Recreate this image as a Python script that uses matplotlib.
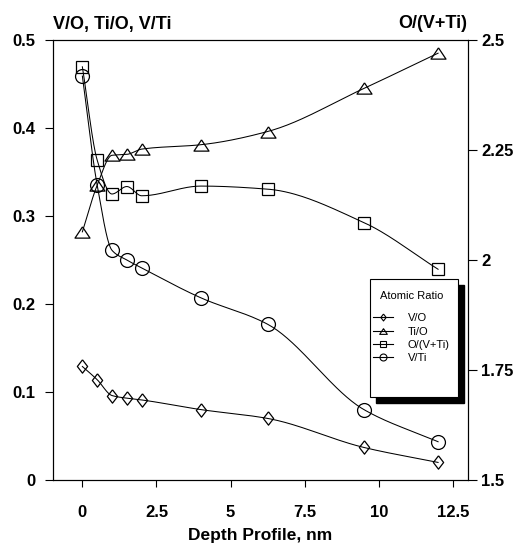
import numpy as np
import matplotlib
matplotlib.use("Agg")
import matplotlib.pyplot as plt
from matplotlib.lines import Line2D
from matplotlib.patches import Rectangle

plt.rcParams['font.family'] = ['Liberation Sans', 'DejaVu Sans']

# depth profile data
depth = [0, 0.5, 1, 1.5, 2, 4, 6.25, 9.5, 12]
v_o = [0.129, 0.114, 0.096, 0.093, 0.091, 0.080, 0.070, 0.037, 0.020]
ti_o = [0.282, 0.335, 0.369, 0.370, 0.376, 0.381, 0.396, 0.445, 0.485]
v_ti = [0.459, 0.335, 0.261, 0.250, 0.241, 0.207, 0.177, 0.080, 0.0435]
o_vti = [2.439, 2.227, 2.150, 2.167, 2.146, 2.168, 2.161, 2.085, 1.979]

xticks = [0, 2.5, 5, 7.5, 10, 12.5]
xtick_labels = ['0', '2.5', '5', '7.5', '10', '12.5']
lticks = [0, 0.1, 0.2, 0.3, 0.4, 0.5]
ltick_labels = ['0', '0.1', '0.2', '0.3', '0.4', '0.5']
rticks = [1.5, 1.75, 2, 2.25, 2.5]
rtick_labels = ['1.5', '1.75', '2', '2.25', '2.5']


def smooth(x, y, n=40):
    # monotone cubic hermite through the points, just for drawing the curve
    x = np.asarray(x, float)
    y = np.asarray(y, float)
    h = np.diff(x)
    d = np.diff(y) / h
    m = np.zeros_like(y)
    m[0], m[-1] = d[0], d[-1]
    for k in range(1, len(x) - 1):
        if d[k - 1] * d[k] > 0:
            w1 = 2 * h[k] + h[k - 1]
            w2 = h[k] + 2 * h[k - 1]
            m[k] = (w1 + w2) / (w1 / d[k - 1] + w2 / d[k])
    xs, ys = [], []
    t = np.linspace(0, 1, n)
    for k in range(len(h)):
        h00 = 2 * t**3 - 3 * t**2 + 1
        h10 = t**3 - 2 * t**2 + t
        h01 = -2 * t**3 + 3 * t**2
        h11 = t**3 - t**2
        xs.append(x[k] + t * h[k])
        ys.append(h00 * y[k] + h10 * h[k] * m[k] + h01 * y[k + 1] + h11 * h[k] * m[k + 1])
    return np.concatenate(xs), np.concatenate(ys)


diamond = [(0, 1), (0.77, 0), (0, -1), (-0.77, 0), (0, 1)]
tri = [(0, 0.75), (1, -0.75), (-1, -0.75), (0, 0.75)]

fig = plt.figure(figsize=(5.22, 5.44), dpi=100)
ax = fig.add_axes([0.101, 0.1176, 0.795, 0.8089])
ax2 = ax.twinx()

lw = 0.75
mk = dict(mfc='none', mec='k', mew=0.9, ls='none')

for yv, m, ms in [(v_o, diamond, 9.6), (ti_o, tri, 10.8), (v_ti, 'o', 10)]:
    sx, sy = smooth(depth, yv)
    ax.plot(sx, sy, color='k', lw=lw)
    ax.plot(depth, yv, marker=m, ms=ms, **mk)

sx, sy = smooth(depth, o_vti)
ax2.plot(sx, sy, color='k', lw=lw)
ax2.plot(depth, o_vti, marker='s', ms=8.4, **mk)

ax.set_xlim(-1, 13)
ax.set_ylim(0, 0.5)
ax2.set_ylim(1.5, 2.5)

ax.set_xticks(xticks)
ax.set_xticklabels(xtick_labels)
ax.set_yticks(lticks)
ax.set_yticklabels(ltick_labels)
ax2.set_yticks(rticks)
ax2.set_yticklabels(rtick_labels)

for a in (ax, ax2):
    for s in a.spines.values():
        s.set_linewidth(0.8)
ax.tick_params(axis='x', direction='out', length=5, width=0.8, pad=13, labelsize=12)
ax.tick_params(axis='y', direction='out', length=5.5, width=0.8, pad=7, labelsize=12)
ax2.tick_params(axis='y', direction='out', length=6.5, width=0.8, pad=3, labelsize=12)
for lab in ax.get_xticklabels() + ax.get_yticklabels() + ax2.get_yticklabels():
    lab.set_fontweight('bold')

ax.set_xlabel('Depth Profile, nm', fontsize=12.5, fontweight='bold', labelpad=6)
fig.text(53 / 522, 1 - 25 / 544, 'V/O, Ti/O, V/Ti', ha='left', va='center',
         fontsize=13, fontweight='bold')
fig.text(467 / 522, 1 - 23 / 544, 'O/(V+Ti)', ha='right', va='center',
         fontsize=13, fontweight='bold')

# legend box with the heavy drop shadow
bx, by, bw, bh = 0.765, 0.189, 0.212, 0.268
ax2.add_patch(Rectangle((bx + 0.0145, by - 0.0136), bw, bh, transform=ax2.transAxes,
                        facecolor='k', edgecolor='k', zorder=4))
ax2.add_patch(Rectangle((bx, by), bw, bh, transform=ax2.transAxes,
                        facecolor='white', edgecolor='k', lw=0.8, zorder=4.5))

lm = dict(color='k', lw=0.8, mfc='none', mec='k', mew=0.8)
handles = [Line2D([], [], marker=diamond, ms=5, **lm),
           Line2D([], [], marker=tri, ms=5.5, **lm),
           Line2D([], [], marker='s', ms=4, **lm),
           Line2D([], [], marker='o', ms=5, **lm)]
labels = ['V/O', 'Ti/O', 'O/(V+Ti)', 'V/Ti']
leg = ax2.legend(handles, labels, title='Atomic Ratio\n', frameon=False,
                 loc='upper left', bbox_to_anchor=(0.772, 0.430),
                 borderpad=0, borderaxespad=0, fontsize=8, title_fontsize=8,
                 handlelength=1.8, handletextpad=1.3, labelspacing=0.3)
leg.get_title().set_linespacing(0.9)
leg.set_zorder(5)

fig.savefig('out.png', dpi=100)
